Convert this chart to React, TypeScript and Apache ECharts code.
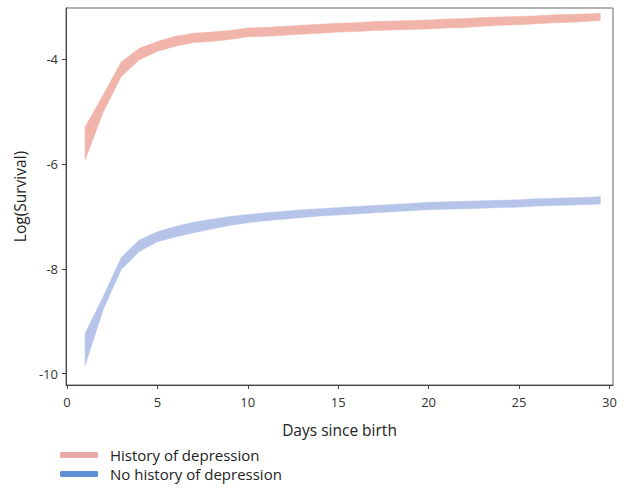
import React, { useEffect, useRef } from "react";
import * as echarts from "echarts";

const days = [1, 2, 3, 4, 5, 6, 7, 8, 9, 10, 11, 12, 13, 14, 15, 16, 17, 18, 19, 20, 21, 22, 23, 24, 25, 26, 27, 28, 29, 29.5];

const histUpper = [-5.29, -4.68, -4.05, -3.79, -3.66, -3.56, -3.50, -3.48, -3.45, -3.40, -3.39, -3.37, -3.35, -3.33, -3.31, -3.30, -3.28, -3.27, -3.26, -3.25, -3.23, -3.22, -3.20, -3.19, -3.18, -3.17, -3.15, -3.14, -3.13, -3.12];
const histLower = [-5.92, -5.01, -4.33, -4.01, -3.85, -3.75, -3.68, -3.66, -3.62, -3.57, -3.56, -3.54, -3.52, -3.50, -3.48, -3.47, -3.45, -3.44, -3.43, -3.42, -3.40, -3.39, -3.37, -3.35, -3.34, -3.32, -3.30, -3.29, -3.27, -3.26];

const noHistUpper = [-9.23, -8.53, -7.78, -7.45, -7.29, -7.19, -7.11, -7.05, -7.00, -6.96, -6.93, -6.90, -6.87, -6.85, -6.83, -6.81, -6.79, -6.77, -6.75, -6.73, -6.72, -6.71, -6.70, -6.69, -6.68, -6.66, -6.65, -6.64, -6.63, -6.62];
const noHistLower = [-9.85, -8.78, -8.01, -7.67, -7.48, -7.39, -7.31, -7.24, -7.17, -7.12, -7.08, -7.05, -7.02, -6.99, -6.97, -6.95, -6.93, -6.91, -6.89, -6.87, -6.86, -6.85, -6.84, -6.83, -6.82, -6.80, -6.79, -6.78, -6.77, -6.76];

const xTicks = [0, 5, 10, 15, 20, 25, 30];
const yTicks = [-10, -8, -6, -4];

const seriesNames = ["History of depression", "No history of depression"];

const FONT = "Open Sans";

export default function App() {
  const ref = useRef<HTMLDivElement>(null);
  useEffect(() => {
    if (!ref.current) return;
    const chart = echarts.init(ref.current, null, { renderer: "svg" });
    const pink = "#f0b4aa";
    const blue = "#b5c4e8";
    const band = (name: string, lower: number[], upper: number[], color: string, legendColor: string) => ({
      name,
      type: "custom",
      silent: true,
      itemStyle: { color: legendColor },
      data: days.map((d, i) => [d, lower[i], upper[i]]),
      encode: { x: 0, y: [1, 2] },
      renderItem: (params: any, api: any) => {
        if (params.dataIndex !== 0) return null;
        const pts: number[][] = [];
        for (let i = 0; i < days.length; i++) pts.push(api.coord([days[i], upper[i]]));
        for (let i = days.length - 1; i >= 0; i--) pts.push(api.coord([days[i], lower[i]]));
        return {
          type: "polygon",
          shape: { points: pts },
          style: { fill: color, stroke: color, lineWidth: 0.5 },
        };
      },
    });
    chart.setOption({
      animation: false,
      backgroundColor: "#ffffff",
      textStyle: { fontFamily: FONT },
      grid: {
        left: 66,
        right: 11,
        top: 8,
        bottom: 108,
        show: true,
        borderColor: "#666",
        borderWidth: 1,
        containLabel: false,
      },
      xAxis: {
        type: "value",
        min: -0.055,
        max: 30.2,
        name: "Days since birth",
        nameLocation: "middle",
        nameGap: 37,
        nameTextStyle: { fontSize: 15.5, color: "#222", fontFamily: FONT },
        splitLine: { show: false },
        axisLine: { show: true, onZero: false, lineStyle: { color: "#444", width: 1 } },
        axisTick: { show: true, length: 4, lineStyle: { color: "#444" }, customValues: xTicks },
        axisLabel: { fontSize: 13, color: "#333", margin: 10, fontFamily: FONT, customValues: xTicks },
      },
      yAxis: {
        type: "value",
        min: -10.216,
        max: -3.02,
        name: "Log(Survival)",
        nameLocation: "middle",
        nameGap: 38,
        nameTextStyle: { fontSize: 15.5, color: "#222", fontFamily: FONT },
        splitLine: { show: false },
        axisLine: { show: true, onZero: false, lineStyle: { color: "#444", width: 1 } },
        axisTick: { show: true, length: 4, lineStyle: { color: "#444" }, customValues: yTicks },
        axisLabel: { fontSize: 13, color: "#333", margin: 8, fontFamily: FONT, customValues: yTicks },
      },
      legend: {
        orient: "vertical",
        left: 60,
        top: 446,
        padding: 0,
        itemWidth: 38,
        itemHeight: 6,
        itemGap: 1,
        icon: "roundRect",
        textStyle: { fontSize: 15, lineHeight: 18, color: "#222", fontFamily: FONT, padding: [0, 0, 0, 7] },
        data: [
          { name: seriesNames[0], itemStyle: { color: "#eaa9a8", opacity: 1 } },
          { name: seriesNames[1], itemStyle: { color: "#5b8fd2", opacity: 1 } },
        ],
      },
      series: [
        band(seriesNames[0], histLower, histUpper, pink, "#eaa9a8"),
        band(seriesNames[1], noHistLower, noHistUpper, blue, "#5b8fd2"),
      ],
    });
    return () => chart.dispose();
  }, []);
  return (
    <div
      ref={ref}
      style={{ position: "fixed", left: 0, top: 0, width: 624, height: 493, background: "#fff" }}
    />
  );
}
